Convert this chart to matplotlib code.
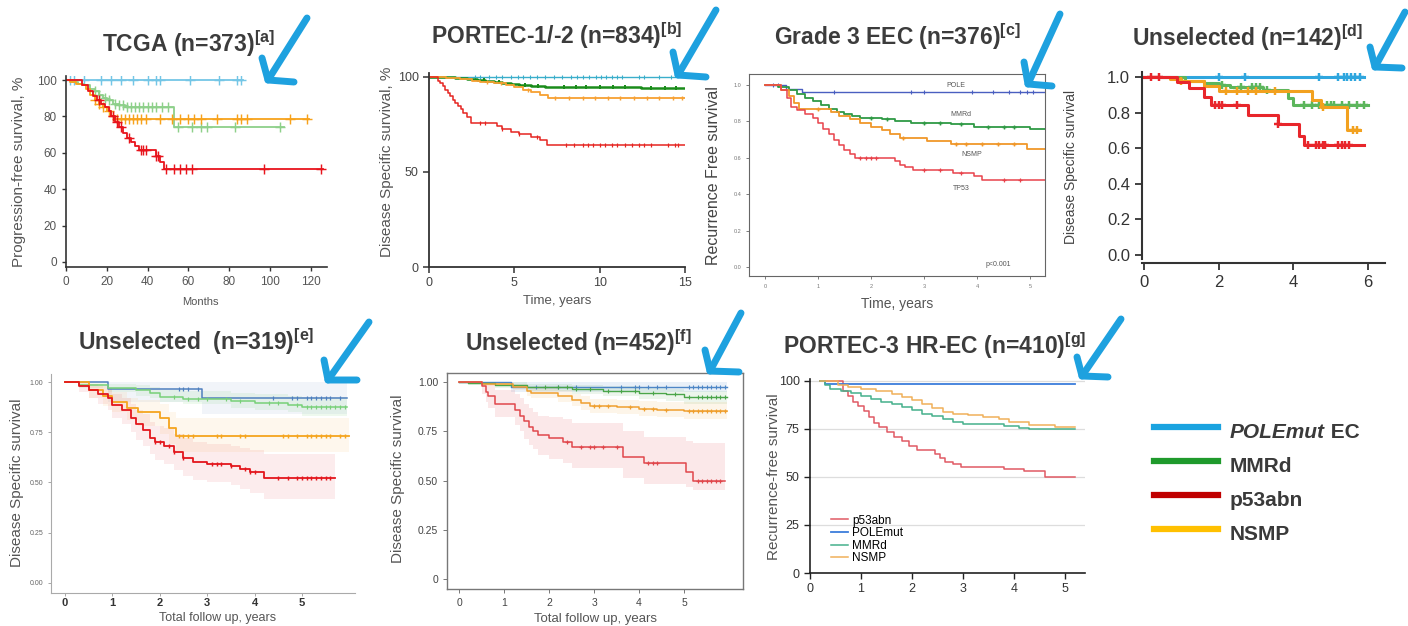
import numpy as np
import matplotlib.pyplot as plt
from matplotlib.lines import Line2D

plt.rcParams['font.family'] = ['Liberation Sans', 'DejaVu Sans']
plt.rcParams['mathtext.fontset'] = 'custom'
plt.rcParams['mathtext.rm'] = 'Liberation Sans'
plt.rcParams['mathtext.bf'] = 'Liberation Sans:bold'

# ---------------- data ----------------
# a: TCGA, months, %
a_pole_t, a_pole_s, a_pole_end = [0], [100], 87
a_pole_c = [2, 4, 9, 17, 22, 27, 33, 40, 44, 46, 61, 75, 84, 86]
a_mmrd_t = [0, 3, 6, 9, 12, 14, 16, 18, 20, 23, 26, 29, 53]
a_mmrd_s = [100, 99, 98, 97, 95, 94, 92, 90, 89, 87, 86, 85, 74]
a_mmrd_end = 107
a_mmrd_c = [14, 16, 19, 21, 24, 26, 28, 30, 32, 34, 36, 38, 40, 42, 44, 47, 50, 55, 62, 66, 69, 83, 105]
a_nsmp_t = [0, 2, 5, 8, 10, 12, 14, 16, 18, 20, 22, 24]
a_nsmp_s = [100, 99, 98, 97, 95, 92, 89, 87, 85, 83, 80, 78.5]
a_nsmp_end = 119
a_nsmp_c = [14, 16, 18, 21, 23, 25, 27, 29, 31, 33, 35, 37, 39, 46, 52, 56, 60, 63, 66, 74, 84, 86, 89, 110, 118]
a_p53_t = [0, 8, 11, 13, 15, 17, 19, 21, 22, 24, 26, 28, 30, 32, 34, 36, 44, 46, 48]
a_p53_s = [100, 97, 94, 91, 89, 87, 85, 83, 80, 77, 74, 71, 68, 66, 64, 61.5, 58, 55, 51]
a_p53_end = 126
a_p53_c = [16, 23, 25, 27, 31, 37, 38, 39, 44, 45, 49, 53, 56, 59, 62, 97, 125]

# b: PORTEC-1/-2, years, %
b_pole_t, b_pole_s, b_pole_end = [0], [100], 15
b_pole_c = [2.7, 3.0, 3.5, 3.9, 4.3, 4.8, 5.2, 5.5, 5.9, 6.3, 6.8, 7.3, 7.8, 8.3, 8.7, 9.0,
            9.4, 9.8, 10.1, 10.4, 10.7, 11.0, 11.3, 12.3, 12.6, 13.5, 14.2]
b_mmrd_t = [0, 1.5, 2.2, 2.8, 3.3, 3.8, 4.3, 4.8, 5.3, 6.0, 6.8, 7.5, 12.4]
b_mmrd_s = [100, 99.5, 99, 98.3, 97.8, 97.2, 96.6, 96.2, 95.8, 95.3, 94.9, 94.7, 94.2]
b_mmrd_end = 15
b_mmrd_c = [3.2, 4.1, 5.6, 6.4, 7.9, 8.6, 9.2, 10.0, 10.8, 11.5, 13.0, 13.8, 14.5]
b_nsmp_t = [0, 1.0, 1.8, 2.5, 3.0, 3.8, 4.5, 5.0, 5.5, 6.0, 6.5, 7.0]
b_nsmp_s = [100, 99.4, 98.8, 98.0, 97.4, 96.5, 95.6, 94.5, 93.3, 91.8, 90.6, 88.8]
b_nsmp_end = 15
b_nsmp_c = [3.4, 4.2, 5.8, 7.4, 8.2, 9.0, 9.7, 10.5, 11.2, 12.0, 12.8, 13.5, 14.3, 14.8]
b_p53_t = [0, 0.5, 0.65, 0.8, 0.95, 1.1, 1.25, 1.4, 1.55, 1.7, 1.85, 2.0, 2.2, 2.45,
           4.0, 4.3, 4.8, 5.3, 6.0, 6.5, 6.9]
b_p53_s = [100, 98, 96.5, 95, 93, 91.5, 90, 88, 86, 84.5, 83, 81, 79, 75.5,
           74, 72.5, 71, 70, 68.5, 67, 64]
b_p53_end = 15
b_p53_c = [3.0, 3.3, 4.3, 5.3, 6.3, 8.0, 8.5, 9.0, 9.3, 9.6, 10.0, 10.3, 10.7, 11.0,
           11.5, 11.9, 12.3, 12.6, 13.0, 14.0, 14.4, 14.6]

# c: Grade 3 EEC, years, fraction
c_pole_t, c_pole_s, c_pole_end = [0, 0.4, 0.7], [1, 0.98, 0.96], 5.28
c_pole_c = [0.15, 0.25, 1.3, 2.75, 3.0, 3.9, 4.3, 4.6, 4.8, 4.95, 5.05]
c_mmrd_t = [0, 0.25, 0.45, 0.6, 0.75, 0.9, 1.05, 1.2, 1.35, 1.5, 1.65, 1.8, 2.2, 2.45, 2.75, 3.5, 3.95, 5.0]
c_mmrd_s = [1, 0.99, 0.97, 0.95, 0.93, 0.91, 0.89, 0.87, 0.85, 0.84, 0.83, 0.82, 0.81, 0.80, 0.79, 0.785, 0.77, 0.76]
c_mmrd_end = 5.28
c_mmrd_c = [2.0, 2.3, 3.0, 3.3, 3.7, 4.2, 4.5, 4.7]
c_nsmp_t = [0, 0.3, 0.45, 0.55, 0.65, 1.25, 1.4, 1.6, 1.8, 2.0, 2.2, 2.35, 2.55, 3.05, 3.5, 4.95]
c_nsmp_s = [1, 0.97, 0.94, 0.9, 0.87, 0.85, 0.83, 0.81, 0.79, 0.77, 0.75, 0.73, 0.71, 0.69, 0.675, 0.65]
c_nsmp_end = 5.28
c_nsmp_c = [1.0, 2.6, 3.6, 3.8, 4.1, 4.4, 4.7]
c_p53_t = [0, 0.3, 0.42, 0.5, 0.6, 0.75, 0.9, 1.0, 1.1, 1.2, 1.3, 1.4, 1.5, 1.6, 1.7,
           2.45, 2.55, 2.65, 2.8, 3.55, 3.95, 4.1]
c_p53_s = [1, 0.97, 0.93, 0.88, 0.86, 0.84, 0.82, 0.79, 0.76, 0.73, 0.70, 0.67, 0.64, 0.62, 0.60,
           0.58, 0.56, 0.55, 0.535, 0.515, 0.50, 0.475]
c_p53_end = 5.28
c_p53_c = [1.8, 1.9, 2.0, 2.1, 3.0, 3.3, 3.7, 4.5, 4.8]

# d: Unselected n=142, years, fraction
d_pole_t, d_pole_s, d_pole_end = [0], [1], 5.9
d_pole_c = [2.0, 2.7, 4.7, 5.2, 5.35, 5.45, 5.55, 5.65, 5.8]
d_mmrd_t = [0, 1.1, 1.6, 2.0, 2.3, 3.2, 3.85, 4.0]
d_mmrd_s = [1, 0.98, 0.965, 0.955, 0.945, 0.925, 0.88, 0.84]
d_mmrd_end = 6.0
d_mmrd_c = [2.1, 2.6, 2.9, 3.0, 3.1, 3.3, 4.3, 4.5, 4.7, 4.9, 5.0, 5.1, 5.3, 5.5, 5.7, 5.9]
d_nsmp_t = [0, 0.7, 1.0, 1.6, 2.0, 4.5, 4.75, 5.45]
d_nsmp_s = [1, 0.99, 0.98, 0.95, 0.92, 0.87, 0.83, 0.70]
d_nsmp_end = 5.8
d_nsmp_c = [1.0, 2.2, 2.5, 2.8, 3.0, 3.5, 4.8, 5.6, 5.7]
d_p53_t = [0, 0.9, 1.2, 1.6, 1.8, 2.8, 3.6, 4.15, 4.3]
d_p53_s = [1, 0.97, 0.94, 0.89, 0.84, 0.785, 0.735, 0.67, 0.62]
d_p53_end = 5.9
d_p53_c = [0.2, 0.4, 1.9, 2.0, 2.1, 2.5, 3.6, 4.4, 4.6, 4.7, 4.8, 4.85, 5.2, 5.3, 5.4, 5.5]

# e: Unselected n=319, years, fraction (+ 95% CI)
e_pole_t, e_pole_s, e_pole_end = [0, 0.9, 2.9], [1, 0.967, 0.922], 5.95
e_pole_lo, e_pole_hi = [1, 0.90, 0.84], [1, 1, 1]
e_pole_c = [2.4, 2.5, 2.6, 2.8, 4.4, 4.8, 4.9, 5.1, 5.2, 5.3, 5.4, 5.5, 5.6, 5.8]
e_mmrd_t = [0, 0.3, 0.9, 1.5, 1.8, 2.0, 2.5, 3.5, 4.0, 4.7, 5.0]
e_mmrd_s = [1, 0.985, 0.97, 0.96, 0.945, 0.925, 0.915, 0.905, 0.895, 0.885, 0.876]
e_mmrd_lo = [1, 0.97, 0.95, 0.93, 0.92, 0.90, 0.89, 0.87, 0.86, 0.85, 0.83]
e_mmrd_hi = [1, 1, 0.99, 0.985, 0.975, 0.96, 0.955, 0.945, 0.94, 0.93, 0.925]
e_mmrd_end = 5.95
e_mmrd_c = [2.3, 2.6, 2.8, 3.0, 3.4, 3.7, 4.3, 4.5, 4.9, 5.1, 5.2, 5.3, 5.4, 5.5, 5.6, 5.7, 5.8, 5.9]
e_nsmp_t = [0, 0.5, 0.8, 1.0, 1.3, 1.55, 2.0, 2.2, 2.35]
e_nsmp_s = [1, 0.96, 0.93, 0.90, 0.87, 0.85, 0.82, 0.77, 0.73]
e_nsmp_lo = [1, 0.92, 0.88, 0.85, 0.81, 0.78, 0.74, 0.69, 0.65]
e_nsmp_hi = [1, 0.99, 0.97, 0.95, 0.92, 0.91, 0.89, 0.85, 0.82]
e_nsmp_end = 6.0
e_nsmp_c = [2.4, 2.5, 2.6, 2.7, 3.2, 3.3, 3.7, 3.8, 4.6, 4.7, 4.9, 5.1, 5.2, 5.3, 5.4, 5.5, 5.6, 5.8, 5.9]
e_p53_t = [0, 0.3, 0.5, 0.7, 0.9, 1.0, 1.2, 1.4, 1.5, 1.65, 1.8, 1.9, 2.1, 2.3, 2.5, 2.7, 3.0, 3.5, 3.7, 3.9, 4.2]
e_p53_s = [1, 0.98, 0.96, 0.94, 0.92, 0.885, 0.86, 0.82, 0.79, 0.76, 0.72, 0.70, 0.68, 0.65, 0.62, 0.60,
           0.59, 0.58, 0.565, 0.55, 0.52]
e_p53_lo = [1, 0.95, 0.92, 0.89, 0.86, 0.82, 0.79, 0.75, 0.71, 0.68, 0.64, 0.61, 0.59, 0.56, 0.53, 0.51,
            0.50, 0.49, 0.47, 0.45, 0.42]
e_p53_hi = [1, 1, 0.99, 0.98, 0.97, 0.94, 0.92, 0.89, 0.86, 0.84, 0.80, 0.78, 0.77, 0.74, 0.72, 0.70,
            0.69, 0.68, 0.67, 0.66, 0.64]
e_p53_end = 5.7
e_p53_c = [1.9, 2.0, 2.2, 2.3, 2.5, 3.1, 3.2, 3.3, 3.5, 3.8, 3.9, 4.0, 4.5, 4.7, 4.9, 5.0, 5.1, 5.2,
           5.3, 5.4, 5.5, 5.6]

# f: Unselected n=452, years, fraction (+ 95% CI)
f_pole_t, f_pole_s, f_pole_end = [0, 1.15], [1, 0.977], 5.95
f_pole_lo, f_pole_hi = [1, 0.95], [1, 1]
f_pole_c = [1.7, 2.2, 2.6, 3.6, 3.9, 4.0, 4.2, 4.4, 4.6, 5.1, 5.2, 5.3, 5.4, 5.5, 5.6, 5.7, 5.8, 5.9]
f_mmrd_t = [0, 0.2, 0.8, 1.5, 2.5, 3.2, 4.0, 4.6, 5.0]
f_mmrd_s = [1, 0.995, 0.985, 0.975, 0.965, 0.955, 0.945, 0.937, 0.925]
f_mmrd_lo = [1, 0.985, 0.97, 0.955, 0.94, 0.93, 0.915, 0.905, 0.89]
f_mmrd_hi = [1, 1, 1, 0.99, 0.985, 0.98, 0.97, 0.965, 0.955]
f_mmrd_end = 5.95
f_mmrd_c = [1.9, 2.2, 2.4, 2.6, 2.9, 3.3, 3.6, 3.9, 4.3, 4.8, 5.1, 5.3, 5.4, 5.5, 5.6, 5.7, 5.8, 5.9]
f_nsmp_t = [0, 0.5, 1.2, 1.5, 1.6, 2.2, 2.5, 2.7, 2.9, 3.5, 4.0, 4.4, 5.0]
f_nsmp_s = [1, 0.99, 0.975, 0.955, 0.945, 0.93, 0.91, 0.895, 0.88, 0.875, 0.865, 0.86, 0.855]
f_nsmp_lo = [1, 0.98, 0.96, 0.93, 0.92, 0.90, 0.88, 0.86, 0.845, 0.84, 0.83, 0.82, 0.81]
f_nsmp_hi = [1, 1, 0.99, 0.975, 0.97, 0.96, 0.94, 0.93, 0.915, 0.91, 0.905, 0.9, 0.9]
f_nsmp_end = 5.95
f_nsmp_c = [3.0, 3.1, 3.3, 3.8, 4.1, 4.3, 4.6, 5.1, 5.2, 5.3, 5.4, 5.5, 5.6, 5.7, 5.8, 5.9]
f_p53_t = [0, 0.5, 0.6, 0.65, 0.8, 1.25, 1.35, 1.45, 1.55, 1.65, 1.75, 2.0, 2.3, 2.5, 3.65, 4.1, 5.05, 5.2]
f_p53_s = [1, 0.98, 0.95, 0.93, 0.89, 0.86, 0.83, 0.80, 0.77, 0.75, 0.73, 0.715, 0.695, 0.67, 0.62,
           0.59, 0.545, 0.50]
f_p53_lo = [1, 0.94, 0.90, 0.87, 0.82, 0.78, 0.75, 0.71, 0.68, 0.66, 0.63, 0.61, 0.59, 0.565, 0.515,
            0.48, 0.465, 0.45]
f_p53_hi = [1, 1, 1, 0.99, 0.96, 0.94, 0.92, 0.89, 0.87, 0.85, 0.83, 0.82, 0.81, 0.79, 0.75, 0.72,
            0.70, 0.69]
f_p53_end = 5.9
f_p53_c = [2.4, 2.7, 2.9, 3.0, 3.2, 3.5, 4.2, 4.3, 4.4, 5.3, 5.4, 5.5, 5.6, 5.7, 5.8]

# g: PORTEC-3 HR-EC, years, %
g_pole_t, g_pole_s, g_pole_end = [0.2, 0.3], [100, 98.3], 5.2
g_mmrd_t = [0.2, 0.3, 0.4, 0.6, 0.8, 1.0, 1.2, 1.4, 1.6, 1.8, 2.0, 2.2, 2.4, 2.6, 2.8, 3.0, 3.8, 4.1, 4.3]
g_mmrd_s = [100, 98, 96, 94.5, 93.5, 92, 90.5, 89, 88, 86.5, 85, 83, 81.5, 80, 78.5, 77.5, 76.5, 75.5, 74.8]
g_mmrd_end = 5.2
g_nsmp_t = [0.2, 0.55, 0.75, 1.0, 1.3, 1.6, 1.8, 2.0, 2.2, 2.4, 2.6, 2.8, 3.1, 3.4, 3.7, 3.9, 4.3, 4.8]
g_nsmp_s = [100, 98, 97, 96, 94.5, 93, 91.5, 90, 88, 86, 84, 83, 82, 81, 80, 78.5, 77, 76]
g_nsmp_end = 5.2
g_p53_t = [0.2, 0.65, 0.75, 0.85, 0.95, 1.05, 1.15, 1.25, 1.35, 1.5, 1.65, 1.8, 1.95, 2.1, 2.45,
           2.55, 2.65, 2.8, 2.95, 3.8, 4.2, 4.6]
g_p53_s = [100, 95, 92, 89, 87, 84.5, 81, 78, 76, 73.5, 71, 68.5, 66, 64, 62, 60, 58, 56.5, 55, 54, 53, 50]
g_p53_end = 5.2

legend_labels = ['POLEmut', 'MMRd', 'p53abn', 'NSMP']
legend_colors = ['#1aa3e0', '#1f9a2c', '#c00000', '#ffc000']

# ---------------- helpers ----------------
W, H = 1408, 626
fig = plt.figure(figsize=(W / 100, H / 100), dpi=100)
TITLE_C = '#3c3c3c'
ARROW_C = '#1ea1df'


def px_ax(l, t, r, b):
    return fig.add_axes([l / W, 1 - b / H, (r - l) / W, (b - t) / H])


def px_text(x, y, s, **kw):
    kw.setdefault('ha', 'center')
    kw.setdefault('va', 'center')
    return fig.text(x / W, 1 - y / H, s, **kw)


def km(ax, t, s, end, color, lw=1.2, cens=(), marker='+', ms=5, lo=None, hi=None, alpha=0.13):
    tt = list(t) + [end]
    ss = list(s) + [s[-1]]
    if lo is not None:
        ax.fill_between(tt, list(lo) + [lo[-1]], list(hi) + [hi[-1]], step='post',
                        color=color, alpha=alpha, lw=0)
    ax.step(tt, ss, where='post', color=color, lw=lw)
    if len(cens):
        idx = np.searchsorted(t, cens, side='right') - 1
        ax.plot(cens, np.asarray(s)[idx], ls='none', marker=marker, ms=ms,
                mew=max(lw * 0.8, 0.6), color=color)


def title(x, y, s, tag):
    px_text(x, y, s + r'$^{\mathbf{[' + tag + ']}}$', fontsize=16.5, fontweight='bold', color=TITLE_C)


def arrow(tip, up, right, tail):
    for seg in ([up, tip, right], [tip, tail]):
        xs = [p[0] / W for p in seg]
        ys = [1 - p[1] / H for p in seg]
        fig.add_artist(Line2D(xs, ys, color=ARROW_C, lw=5, solid_capstyle='round',
                              solid_joinstyle='round', transform=fig.transFigure))


# ---------------- a: TCGA ----------------
ax = px_ax(66, 76, 327, 267)
km(ax, a_pole_t, a_pole_s, a_pole_end, '#74c6e6', 1.3, a_pole_c, ms=7)
km(ax, a_mmrd_t, a_mmrd_s, a_mmrd_end, '#8ed08a', 1.3, a_mmrd_c, ms=7)
km(ax, a_nsmp_t, a_nsmp_s, a_nsmp_end, '#f7a21b', 1.3, a_nsmp_c, ms=7)
km(ax, a_p53_t, a_p53_s, a_p53_end, '#e8141c', 1.3, a_p53_c, ms=7)
ax.set_xlim(0, 128)
ax.set_ylim(-2.75, 102.2)
ax.set_xticks(range(0, 121, 20))
ax.set_yticks(range(0, 101, 20))
for sp in ['top', 'right']:
    ax.spines[sp].set_visible(False)
for sp in ['left', 'bottom']:
    ax.spines[sp].set_color('#333333')
    ax.spines[sp].set_linewidth(1.2)
ax.tick_params(length=3, width=1, color='#333333', labelcolor='#555555', labelsize=8.5)
px_text(19, 172, 'Progression-free survival, %', rotation=90, fontsize=11, color='#555555')
px_text(200, 302, 'Months', fontsize=8, color='#555555')
title(188, 44, 'TCGA (n=373)', 'a')

# ---------------- b: PORTEC-1/-2 ----------------
ax = px_ax(429, 73, 685, 267)
km(ax, b_pole_t, b_pole_s, b_pole_end, '#3aaecb', 1.0, b_pole_c, marker='|', ms=3)
km(ax, b_mmrd_t, b_mmrd_s, b_mmrd_end, '#1a8c1a', 1.8, b_mmrd_c, marker='|', ms=3)
km(ax, b_nsmp_t, b_nsmp_s, b_nsmp_end, '#f7a032', 1.3, b_nsmp_c, marker='|', ms=3)
km(ax, b_p53_t, b_p53_s, b_p53_end, '#e52521', 1.1, b_p53_c, marker='|', ms=3)
ax.set_xlim(0, 15)
ax.set_ylim(0, 102)
ax.set_xticks([0, 5, 10, 15])
ax.set_yticks([0, 50, 100])
for sp in ['top', 'right']:
    ax.spines[sp].set_visible(False)
for sp in ['left', 'bottom']:
    ax.spines[sp].set_color('#333333')
    ax.spines[sp].set_linewidth(1.3)
ax.tick_params(length=4, width=1.1, color='#333333', labelcolor='#444444', labelsize=9)
px_text(387, 162, 'Disease Specific survival, %', rotation=90, fontsize=11, color='#555555')
px_text(557, 301, 'Time, years', fontsize=9.5, color='#555555')
title(557, 36, 'PORTEC-1/-2 (n=834)', 'b')

# ---------------- c: Grade 3 EEC ----------------
ax = px_ax(749, 74, 1045, 276)
km(ax, c_pole_t, c_pole_s, c_pole_end, '#4a5fc0', 1.0, c_pole_c, ms=3)
km(ax, c_mmrd_t, c_mmrd_s, c_mmrd_end, '#2f9a45', 1.3, c_mmrd_c, ms=3)
km(ax, c_nsmp_t, c_nsmp_s, c_nsmp_end, '#f0972a', 1.3, c_nsmp_c, ms=3)
km(ax, c_p53_t, c_p53_s, c_p53_end, '#e8434b', 1.1, c_p53_c, ms=3)
ax.set_xlim(-0.3, 5.28)
ax.set_ylim(-0.05, 1.06)
ax.set_xticks(range(0, 6))
ax.set_yticks([0, 0.2, 0.4, 0.6, 0.8, 1.0])
ax.set_yticklabels(['0.0', '0.2', '0.4', '0.6', '0.8', '1.0'])
for sp in ax.spines.values():
    sp.set_color('#666666')
    sp.set_linewidth(0.8)
ax.tick_params(length=2, width=0.6, color='#666666', labelcolor='#777777', labelsize=4)
for lab, x, y in [('POLE', 3.6, 0.995), ('MMRd', 3.7, 0.835), ('NSMP', 3.9, 0.615),
                  ('TP53', 3.7, 0.43), ('p<0.001', 4.4, 0.015)]:
    ax.text(x, y, lab, fontsize=5, color='#555555', ha='center', va='center')
px_text(714, 176, 'Recurrence Free survival', rotation=90, fontsize=11.5, color='#444444')
px_text(897, 304, 'Time, years', fontsize=10, color='#555555')
title(897, 37, 'Grade 3 EEC (n=376)', 'c')

# ---------------- d: Unselected n=142 ----------------
ax = px_ax(1142, 72, 1385, 263)
km(ax, d_pole_t, d_pole_s, d_pole_end, '#2fa6de', 2.2, d_pole_c, ms=6)
km(ax, d_mmrd_t, d_mmrd_s, d_mmrd_end, '#5cb65c', 2.2, d_mmrd_c, ms=6)
km(ax, d_nsmp_t, d_nsmp_s, d_nsmp_end, '#f2a11f', 2.2, d_nsmp_c, ms=6)
km(ax, d_p53_t, d_p53_s, d_p53_end, '#e8262b', 2.2, d_p53_c, ms=6)
ax.set_xlim(-0.05, 6.46)
ax.set_ylim(-0.045, 1.028)
ax.spines['left'].set_bounds(-0.02, 1.028)
ax.set_xticks([0, 2, 4, 6])
ax.set_yticks([0, 0.2, 0.4, 0.6, 0.8, 1.0])
ax.set_yticklabels(['0.0', '0.2', '0.4', '0.6', '0.8', '1.0'])
for sp in ['top', 'right']:
    ax.spines[sp].set_visible(False)
for sp in ['left', 'bottom']:
    ax.spines[sp].set_color('#333333')
    ax.spines[sp].set_linewidth(1.5)
ax.tick_params(length=5, width=1.3, color='#333333', labelcolor='#333333', labelsize=12)
px_text(1071, 167, 'Disease Specific survival', rotation=90, fontsize=10, color='#444444')
title(1247, 38, 'Unselected (n=142)', 'd')

# ---------------- e: Unselected n=319 ----------------
ax = px_ax(51, 374, 355, 593)
km(ax, e_pole_t, e_pole_s, e_pole_end, '#4f7fbf', 1.1, e_pole_c, marker='|', ms=3.5,
   lo=e_pole_lo, hi=e_pole_hi, alpha=0.08)
km(ax, e_mmrd_t, e_mmrd_s, e_mmrd_end, '#78d078', 1.1, e_mmrd_c, marker='|', ms=3.5,
   lo=e_mmrd_lo, hi=e_mmrd_hi, alpha=0.12)
km(ax, e_nsmp_t, e_nsmp_s, e_nsmp_end, '#f5a51e', 1.3, e_nsmp_c, marker='|', ms=3.5,
   lo=e_nsmp_lo, hi=e_nsmp_hi, alpha=0.08)
km(ax, e_p53_t, e_p53_s, e_p53_end, '#e3161c', 1.3, e_p53_c, marker='|', ms=3.5,
   lo=e_p53_lo, hi=e_p53_hi, alpha=0.08)
ax.set_xlim(-0.295, 6.12)
ax.set_ylim(-0.05, 1.04)
ax.set_xticks(range(0, 6))
ax.set_yticks([0, 0.25, 0.5, 0.75, 1.0])
ax.set_yticklabels(['0.00', '0.25', '0.50', '0.75', '1.00'])
for sp in ['top', 'right']:
    ax.spines[sp].set_visible(False)
for sp in ['left', 'bottom']:
    ax.spines[sp].set_color('#aaaaaa')
    ax.spines[sp].set_linewidth(0.8)
ax.tick_params(axis='y', length=2, width=0.6, color='#999999', labelcolor='#666666', labelsize=5)
ax.tick_params(axis='x', length=2, width=0.6, color='#999999', labelcolor='#333333',
               labelsize=8, pad=1.5)
for lab in ax.get_xticklabels():
    lab.set_fontweight('bold')
px_text(17, 483, 'Disease Specific survival', rotation=90, fontsize=11, color='#555555')
px_text(218, 618, 'Total follow up, years', fontsize=9, color='#555555')
title(196, 342, 'Unselected  (n=319)', 'e')

# ---------------- f: Unselected n=452 ----------------
ax = px_ax(447, 373, 743, 589)
km(ax, f_pole_t, f_pole_s, f_pole_end, '#4d86c6', 1.0, f_pole_c, ms=3.5,
   lo=f_pole_lo, hi=f_pole_hi, alpha=0.12)
km(ax, f_mmrd_t, f_mmrd_s, f_mmrd_end, '#4aa54a', 1.0, f_mmrd_c, ms=3.5,
   lo=f_mmrd_lo, hi=f_mmrd_hi, alpha=0.1)
km(ax, f_nsmp_t, f_nsmp_s, f_nsmp_end, '#ef9f2f', 1.1, f_nsmp_c, ms=3.5,
   lo=f_nsmp_lo, hi=f_nsmp_hi, alpha=0.1)
km(ax, f_p53_t, f_p53_s, f_p53_end, '#e0474c', 1.1, f_p53_c, ms=3.5,
   lo=f_p53_lo, hi=f_p53_hi, alpha=0.12)
ax.set_xlim(-0.267, 6.31)
ax.set_ylim(-0.051, 1.046)
ax.set_xticks(range(0, 6))
ax.set_yticks([0, 0.25, 0.5, 0.75, 1.0])
ax.set_yticklabels(['0', '0.25', '0.50', '0.75', '1.00'])
for sp in ax.spines.values():
    sp.set_color('#777777')
    sp.set_linewidth(1.0)
ax.tick_params(length=3, width=0.7, color='#777777', labelcolor='#444444', labelsize=7.5)
px_text(398, 479, 'Disease Specific survival', rotation=90, fontsize=11, color='#555555')
px_text(596, 619, 'Total follow up, years', fontsize=9.5, color='#555555')
title(578, 343, 'Unselected (n=452)', 'f')

# ---------------- g: PORTEC-3 HR-EC ----------------
ax = px_ax(810, 379, 1085, 573)
ax.grid(axis='y', color='#dddddd', lw=0.9)
ax.set_axisbelow(True)
km(ax, g_p53_t, g_p53_s, g_p53_end, '#e05a64', 1.1)
km(ax, g_pole_t, g_pole_s, g_pole_end, '#3c7ddb', 1.3)
km(ax, g_mmrd_t, g_mmrd_s, g_mmrd_end, '#45b08c', 1.1)
km(ax, g_nsmp_t, g_nsmp_s, g_nsmp_end, '#f0b05a', 1.1)
ax.set_xlim(0, 5.39)
ax.set_ylim(0, 101)
ax.set_xticks(range(0, 6))
ax.set_yticks([0, 25, 50, 75, 100])
for sp in ['top', 'right']:
    ax.spines[sp].set_visible(False)
for sp in ['left', 'bottom']:
    ax.spines[sp].set_color('#222222')
    ax.spines[sp].set_linewidth(1.2)
ax.tick_params(length=4, width=1.0, color='#222222', labelcolor='#333333', labelsize=9)
ax.legend(['p53abn', 'POLEmut', 'MMRd', 'NSMP'], loc='lower left', bbox_to_anchor=(0.06, 0.02),
          fontsize=8.5, handlelength=1.4, labelspacing=0.05, handletextpad=0.4,
          frameon=False, borderaxespad=0)
px_text(774, 477, 'Recurrence-free survival', rotation=90, fontsize=11, color='#555555')
title(935, 346, 'PORTEC-3 HR-EC (n=410)', 'g')

# ---------------- right-hand legend ----------------
leg_y = [427, 461, 495, 529]
for lab, col, y in zip(legend_labels, legend_colors, leg_y):
    fig.add_artist(Line2D([1154 / W, 1218 / W], [1 - y / H] * 2, color=col, lw=4.5,
                          transform=fig.transFigure))
    t = px_text(1230, y + 6, lab, ha='left', fontsize=15, fontweight='bold', color='#3a3a3a',
                fontstyle='italic' if lab == 'POLEmut' else 'normal')
    if lab == 'POLEmut':
        fig.canvas.draw()
        bb = t.get_window_extent(renderer=fig.canvas.get_renderer())
        fig.text(bb.x1 / W, 1 - (y + 6) / H, ' EC', ha='left', va='center', fontsize=15,
                 fontweight='bold', color='#3a3a3a')

# ---------------- hand-drawn arrows ----------------
arrow((268, 80), (262, 58), (294, 82), (307, 18))
arrow((678, 75), (673, 52), (706, 77), (716, 10))
arrow((1028, 84), (1024, 62), (1052, 86), (1060, 14))
arrow((1375, 67), (1370, 47), (1402, 68), (1405, 12))
arrow((328, 380), (324, 360), (357, 380), (369, 322))
arrow((710, 371), (705, 350), (739, 372), (741, 313))
arrow((1082, 376), (1077, 357), (1108, 377), (1121, 319))

fig.savefig('out.png', dpi=100)
